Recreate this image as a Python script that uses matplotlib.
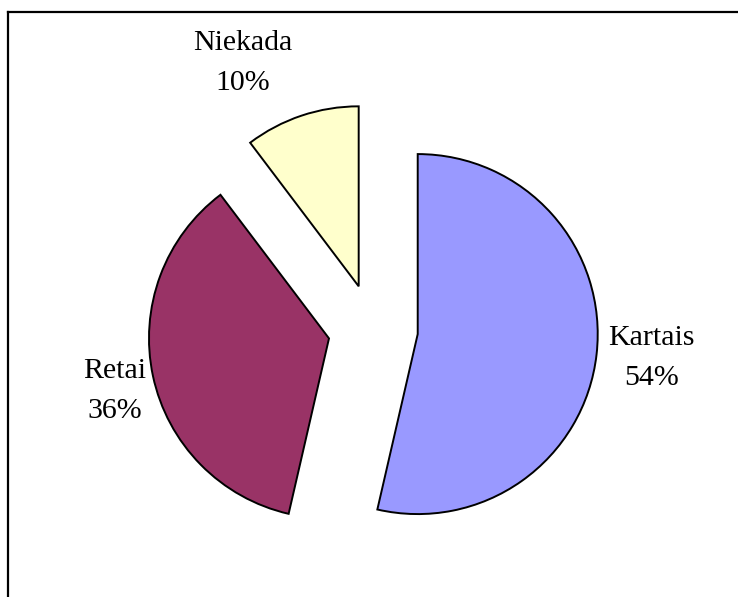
import matplotlib
matplotlib.use("Agg")
import matplotlib.pyplot as plt
from matplotlib.lines import Line2D

plt.rcParams['font.family'] = ['Liberation Serif', 'DejaVu Serif']

# duomenys (shares; labels show rounded %)
labels = ['Kartais', 'Retai', 'Niekada']
shares = [53.6, 36.1, 10.3]
colors = ['#9999FF', '#993366', '#FFFFCC']

# label offsets from each wedge's tip, in radius units
label_offsets = [(1.30, -0.133), (-1.19, -0.294), (-0.644, 1.24)]

W, H = 738, 597
R_PX = 180.0
CX, CY = 373.0, 329.0  # unexploded pie centre in pixels

fig = plt.figure(figsize=(W / 100, H / 100), dpi=100)
ax = fig.add_axes([0, 0, 1, 1])

wedges, _ = ax.pie(shares, explode=[0.25] * len(shares), colors=colors,
                   startangle=90, counterclock=False, radius=1.0,
                   wedgeprops=dict(edgecolor='black', linewidth=1.4))

ax.set_xlim(-CX / R_PX, (W - CX) / R_PX)
ax.set_ylim((CY - H) / R_PX, CY / R_PX)
ax.set_aspect('equal')
ax.axis('off')

for w, lab, val, (dx, dy) in zip(wedges, labels, shares, label_offsets):
    x0, y0 = w.center
    ax.text(x0 + dx, y0 + dy, f"{lab}\n{round(val)}%", ha='center', va='center',
            fontsize=21.5, linespacing=1.7)

# frame (only top and left edges fall inside the picture)
fig.add_artist(Line2D([8, W], [H - 12, H - 12], color='black', linewidth=1.6,
                      transform=None))
fig.add_artist(Line2D([8, 8], [0, H - 12], color='black', linewidth=1.6,
                      transform=None))

fig.savefig('out.png', dpi=100)
